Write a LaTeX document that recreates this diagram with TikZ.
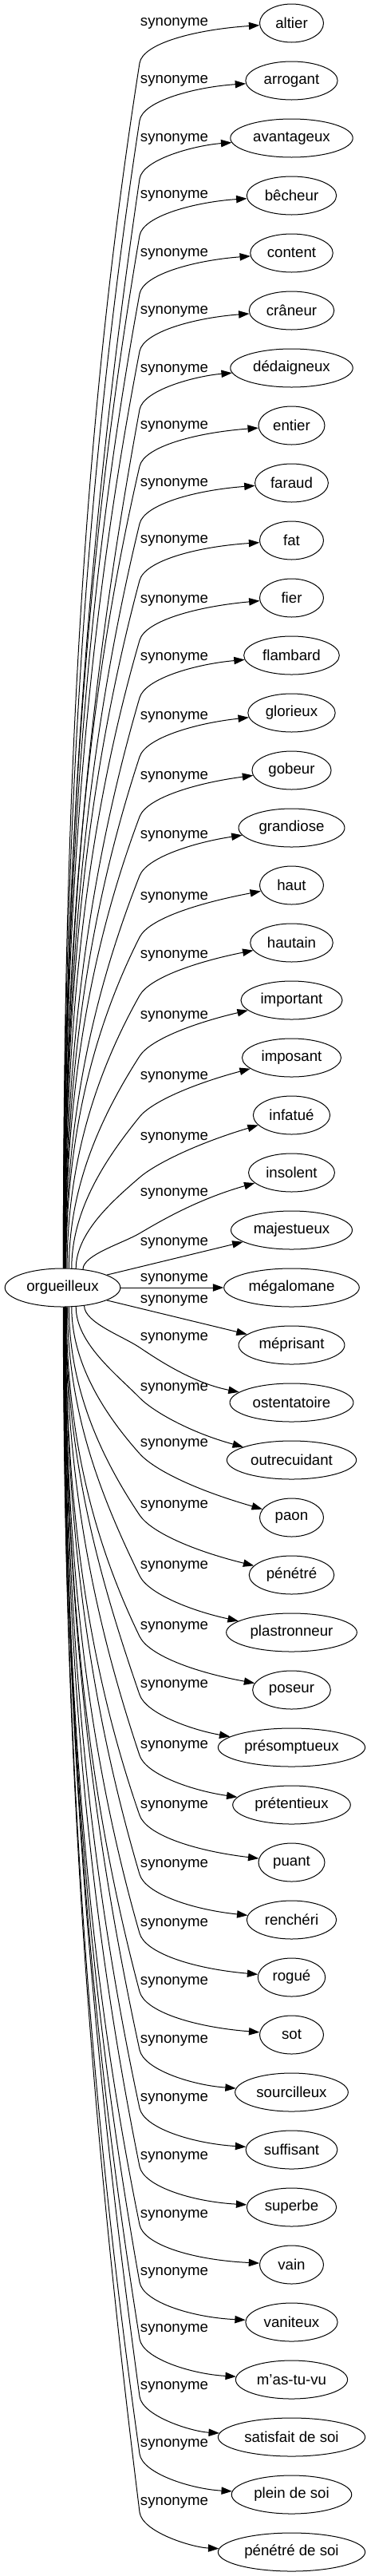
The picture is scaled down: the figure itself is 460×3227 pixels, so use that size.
\documentclass[tikz,border=0pt]{standalone}
\usepackage{fontspec}
\setmainfont{Liberation Sans}
\usetikzlibrary{arrows.meta,shapes.geometric,calc}

\tikzset{
  lex/.style={ellipse, draw, line width=0.75pt, font=\fontsize{14}{16}\selectfont,
    inner xsep=4.5pt, inner ysep=2pt, minimum width=60pt, minimum height=36pt},
  syn/.style={font=\fontsize{14}{16}\selectfont, inner sep=0pt},
  rel/.style={line width=0.75pt, -{Triangle[length=10pt, width=7pt]}},
}

\begin{document}
\begin{tikzpicture}[x=0.75pt, y=-0.75pt]
  \useasboundingbox (0,0) rectangle (460,3227);
  \node[lex] (o) at (78.5,1613) {orgueilleux};
  % one entry per synonym: word / label height / leaving angle on (o)
  \foreach \w/\ly/\a [count=\k] in {
      altier/29/88, arrogant/101/88, avantageux/174/87, bêcheur/245/87,
      content/318/86, crâneur/390/86, dédaigneux/463/85, entier/534/85,
      faraud/606/84, fat/677/84, fier/752/83, flambard/824/83,
      glorieux/898/82, gobeur/973/82, grandiose/1047/81, haut/1124/80,
      hautain/1197/77, important/1273/72, imposant/1349/65, infatué/1425/55,
      insolent/1495/42, majestueux/1557/16, mégalomane/1602/0, méprisant/1629/344,
      ostentatoire/1676/320, outrecuidant/1739/305, paon/1809/295, pénétré/1886/288,
      plastronneur/1962/284, poseur/2038/281, présomptueux/2111/279, prétentieux/2187/279,
      puant/2262/278, renchéri/2336/278, rogué/2410/277, sot/2483/277,
      sourcilleux/2556/276, suffisant/2629/276, superbe/2702/275, vain/2775/275,
      vaniteux/2847/274, m'as-tu-vu/2918/274, satisfait de soi/2990/273,
      plein de soi/3062/273, pénétré de soi/3135/272}{
    \pgfmathsetmacro\ty{29+72*(\k-1)}
    \node[lex] (t\k) at (365.5,\ty) {\w};
    \node[syn] (l\k) at (218.5,\ly) {synonyme};
    \ifnum\k<22\relax
      \coordinate (c\k) at (175,{\ly+50});
      \coordinate (d\k) at (245,{\ly+8});
    \else
      \coordinate (c\k) at (175,{\ly+12});
      \coordinate (d\k) at (240,{min(\ty-4,\ly+56)});
    \fi
    \ifnum\k>21\relax\ifnum\k<25\relax
      \draw[rel] (o.\a) -- (t\k);
    \fi\fi
    \ifnum\k<22\relax\def\bent{1}\else\ifnum\k>24\relax\def\bent{1}\else\def\bent{0}\fi\fi
    \ifnum\bent=1\relax
      \draw[rel] let \p1=(o.\a), \p2=(t\k.west), \p3=(c\k),
          \n1={veclen(\x2-\x1,\y2-\y1)}, \n2={veclen(\x3-\x1,\y3-\y1)} in
        (o.\a) .. controls (\x1,{\y1+0.4*(\y3-\y1)})
          and ({\x3-0.3*\n2*((\x2-\x1)/\n1)},{\y3-0.3*\n2*((\y2-\y1)/\n1)}) .. (c\k)
        .. controls ({\x3+18.75*((\x2-\x1)/\n1)},{\y3+18.75*((\y2-\y1)/\n1)})
          and (d\k) .. (t\k);
    \fi
  }
\end{tikzpicture}
\end{document}
